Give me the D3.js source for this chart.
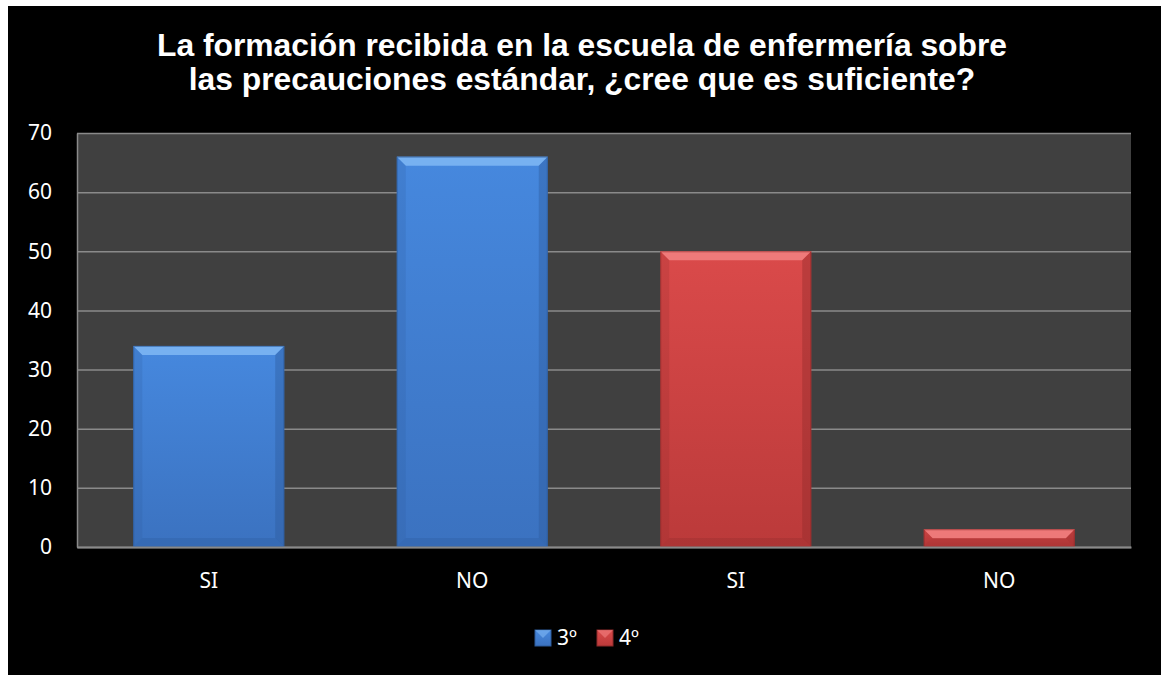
<!DOCTYPE html>
<html>
<head>
<meta charset="utf-8">
<script src="https://cdn.jsdelivr.net/npm/d3@7"></script>
<style>
    body { margin: 0; background: #fff; }
    svg { display: block; }
</style>
</head>
<body>
<svg id="chart" width="1163" height="675"></svg>
<script>
// chart data
const categories = ['SI', 'NO', 'SI', 'NO'];
const seriesNames = ['3º', '4º'];
const series3 = [34, 66, null, null];
const series4 = [null, null, 50, 3];
const yTicks = [0, 10, 20, 30, 40, 50, 60, 70];
const titleLines = [
    'La formación recibida en la escuela de enfermería sobre',
    'las precauciones estándar, ¿cree que es suficiente?'
];

const svg = d3.select('#chart');
const plot = { left: 77, right: 1131, top: 133, bottom: 547 };

// palettes for the bevelled look: [top, bottom, light edge, dark edge]
const palette = {
    '3º': ['#4688de', '#3b72c0', '#80b8f4', '#2c5a9a'],
    '4º': ['#da4a4a', '#bb3a3a', '#f28282', '#8e2a2a']
};

const defs = svg.append('defs');
seriesNames.forEach(function(name, i) {
    let g = defs.append('linearGradient')
        .attr('id', 'grad-' + i)
        .attr('x1', 0).attr('y1', 0).attr('x2', 0).attr('y2', 1);
    g.append('stop').attr('offset', '0%').attr('stop-color', palette[name][0]);
    g.append('stop').attr('offset', '100%').attr('stop-color', palette[name][1]);
});

// black card
svg.append('rect')
    .attr('x', 8).attr('y', 6)
    .attr('width', 1153).attr('height', 669)
    .attr('fill', '#000');

// title
svg.append('g').selectAll('text')
    .data(titleLines)
    .enter().append('text')
    .attr('x', 582)
    .attr('y', (d, i) => 56 + i * 34)
    .attr('text-anchor', 'middle')
    .attr('font-family', 'Liberation Sans, Arial, sans-serif')
    .attr('font-weight', 'bold')
    .attr('font-size', 31.8)
    .attr('fill', '#fff')
    .text(d => d);

const x = d3.scaleBand()
    .domain(d3.range(categories.length))
    .range([plot.left, plot.right])
    .paddingInner(0.427)
    .paddingOuter(0.2135);

const y = d3.scaleLinear()
    .domain([0, 70])
    .range([plot.bottom, plot.top]);

// plot background
svg.append('rect')
    .attr('x', plot.left).attr('y', plot.top)
    .attr('width', plot.right - plot.left)
    .attr('height', plot.bottom - plot.top)
    .attr('fill', '#404040');

// gridlines
let grid = svg.append('g')
    .attr('transform', 'translate(' + plot.left + ',0)')
    .call(d3.axisLeft(y).tickValues(yTicks).tickSize(-(plot.right - plot.left)).tickFormat(''));
grid.select('.domain').remove();
grid.selectAll('line')
    .attr('stroke', '#8a8a8a')
    .attr('stroke-width', 1.5);

// left axis labels
let yAxis = svg.append('g')
    .attr('transform', 'translate(' + plot.left + ',0)')
    .call(d3.axisLeft(y).tickValues(yTicks).tickSize(0).tickPadding(25));
yAxis.select('.domain')
    .attr('stroke', '#8a8a8a')
    .attr('stroke-width', 1.5);
yAxis.selectAll('text')
    .attr('fill', '#fff')
    .attr('font-family', 'Noto Sans, sans-serif')
    .attr('font-size', 21);

// bars
let rows = [];
categories.forEach(function(c, i) {
    [series3, series4].forEach(function(s, k) {
        if (s[i] !== null) rows.push({ idx: i, serie: seriesNames[k], k: k, value: s[i] });
    });
});

let bars = svg.append('g').selectAll('g')
    .data(rows)
    .enter().append('g');

bars.each(function(d) {
    let g = d3.select(this);
    let x0 = x(d.idx);
    let w = x.bandwidth();
    let y0 = y(d.value);
    let h = y(0) - y0;
    let b = Math.min(9, h / 2);
    let col = palette[d.serie];

    g.append('rect')
        .attr('x', x0).attr('y', y0)
        .attr('width', w).attr('height', h)
        .attr('fill', 'url(#grad-' + d.k + ')');

    // top bevel
    g.append('polygon')
        .attr('points', [[x0, y0], [x0 + w, y0], [x0 + w - b, y0 + b], [x0 + b, y0 + b]].join(' '))
        .attr('fill', col[2])
        .attr('opacity', 0.85);
    // left bevel
    g.append('polygon')
        .attr('points', [[x0, y0], [x0 + b, y0 + b], [x0 + b, y0 + h - b], [x0, y0 + h]].join(' '))
        .attr('fill', col[3])
        .attr('opacity', 0.2);
    // right bevel
    g.append('polygon')
        .attr('points', [[x0 + w, y0], [x0 + w - b, y0 + b], [x0 + w - b, y0 + h - b], [x0 + w, y0 + h]].join(' '))
        .attr('fill', col[3])
        .attr('opacity', 0.4);
    // bottom bevel
    g.append('polygon')
        .attr('points', [[x0, y0 + h], [x0 + b, y0 + h - b], [x0 + w - b, y0 + h - b], [x0 + w, y0 + h]].join(' '))
        .attr('fill', col[3])
        .attr('opacity', 0.3);

    g.append('rect')
        .attr('x', x0 + 0.5).attr('y', y0 + 0.5)
        .attr('width', w - 1).attr('height', h - 1)
        .attr('fill', 'none')
        .attr('stroke', col[3])
        .attr('stroke-opacity', 0.6)
        .attr('stroke-width', 1);
});

// bottom axis
let xAxis = svg.append('g')
    .attr('transform', 'translate(0,' + plot.bottom + ')')
    .call(d3.axisBottom(x).tickSize(0).tickPadding(26).tickFormat(i => categories[i]));
xAxis.select('.domain')
    .attr('stroke', '#8a8a8a')
    .attr('stroke-width', 2);
xAxis.selectAll('text')
    .attr('fill', '#fff')
    .attr('font-family', 'Noto Sans, sans-serif')
    .attr('font-size', 21);

// legend
let legendX = [535, 597];
let legend = svg.append('g').selectAll('g')
    .data(seriesNames)
    .enter().append('g')
    .attr('transform', (d, i) => 'translate(' + legendX[i] + ',630)');

legend.append('rect')
    .attr('width', 16).attr('height', 16)
    .attr('fill', (d, i) => 'url(#grad-' + i + ')')
    .attr('stroke', d => palette[d][3])
    .attr('stroke-width', 1);
legend.append('polygon')
    .attr('points', '0,0 16,0 8,8')
    .attr('fill', d => palette[d][2])
    .attr('opacity', 0.6);
legend.append('text')
    .attr('x', 22)
    .attr('y', 15)
    .attr('fill', '#fff')
    .attr('font-family', 'Noto Sans, sans-serif')
    .attr('font-size', 21)
    .text(d => d);
</script>
</body>
</html>
